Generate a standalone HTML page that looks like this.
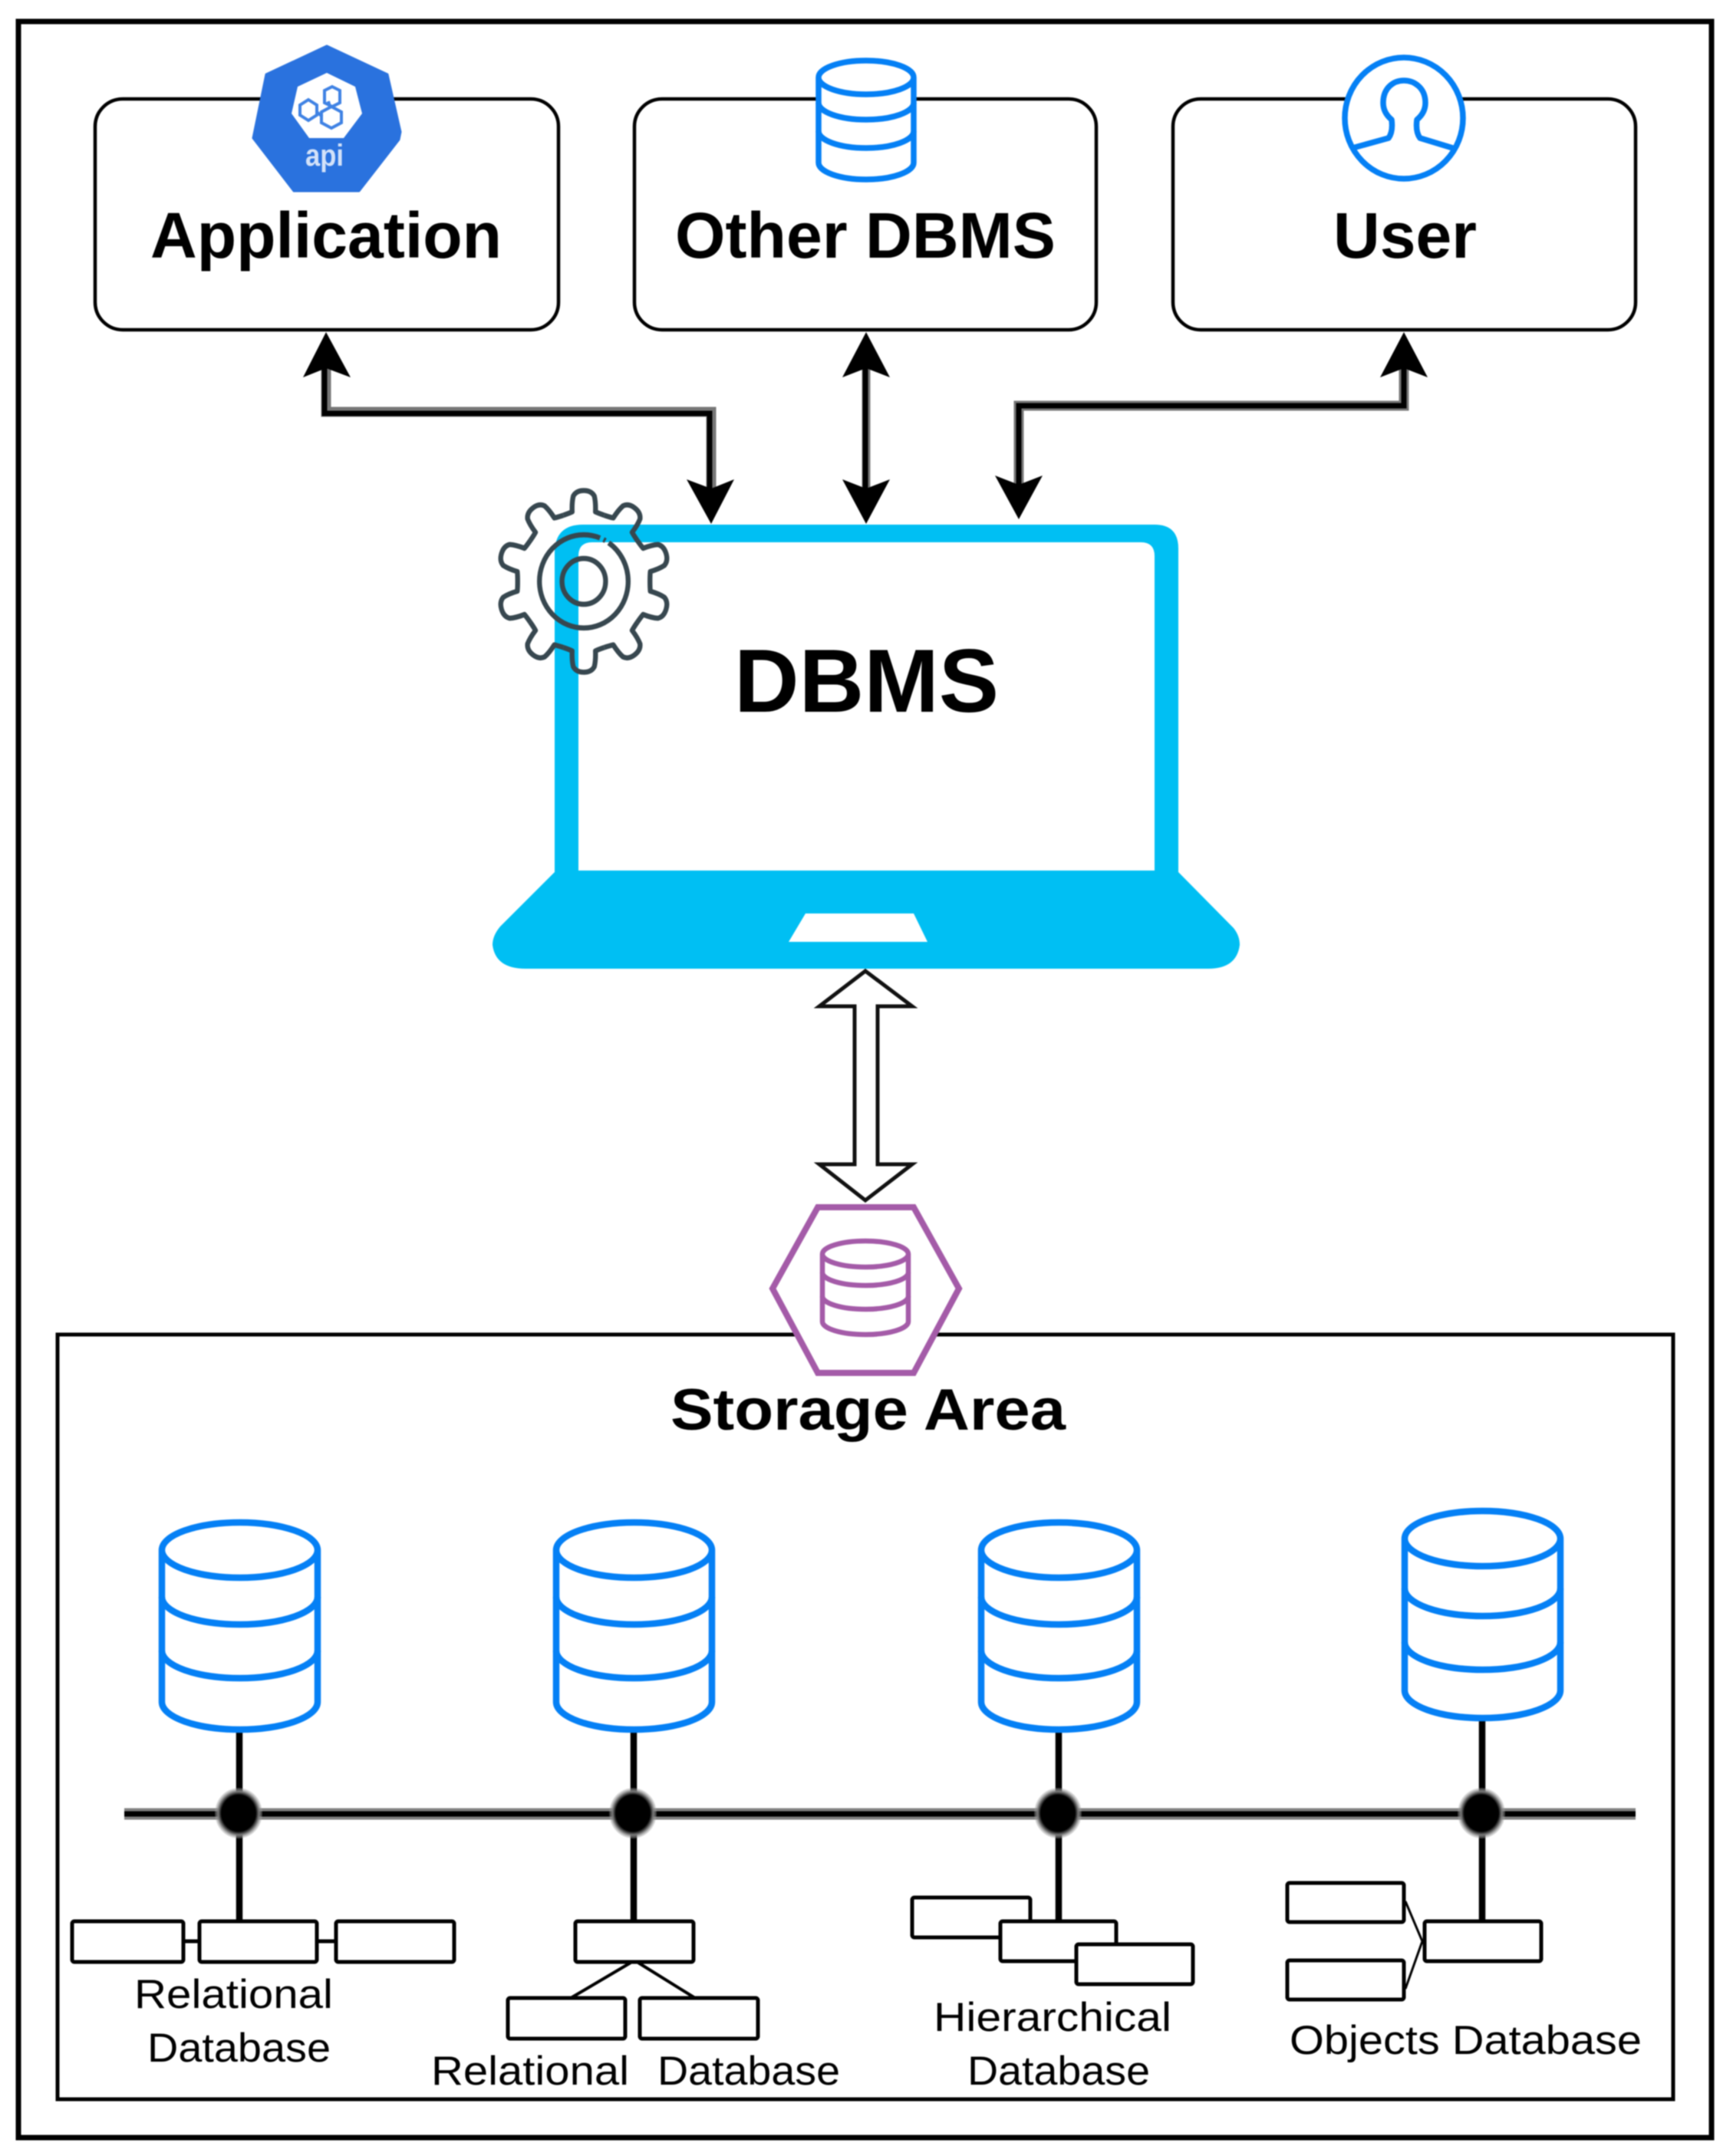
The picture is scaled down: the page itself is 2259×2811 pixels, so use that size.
<!DOCTYPE html>
<html><head><meta charset="utf-8"><title>DBMS</title>
<style>html,body{margin:0;padding:0;background:#fff}svg{display:block}
text{font-family:"Liberation Sans",sans-serif;fill:#000}</style></head>
<body>
<svg width="2259" height="2811" viewBox="0 0 2259 2811" xmlns="http://www.w3.org/2000/svg">
<defs>
<g id="cyl">
<path d="M-101.5 0V198A101.5 36 0 0 0 101.5 198V0A101.5 36 0 0 0 -101.5 0A101.5 36 0 0 0 101.5 0" fill="#fff" stroke="#0580f5" stroke-width="8.5"/>
</g>
<path id="tooth" d="M-27.2 -83.7Q-20 -86 -15.5 -88Q-16 -100 -14 -108Q-10 -115 0 -115Q10 -115 14 -108Q16 -100 15.5 -88Q20 -86 27.2 -83.7"/>
<radialGradient id="node"><stop offset="0" stop-color="#000"/><stop offset=".72" stop-color="#000"/><stop offset=".85" stop-color="#777"/><stop offset="1" stop-color="#aaa" stop-opacity=".25"/></radialGradient>
</defs>
<g style="filter:blur(.9px)">
<rect width="2259" height="2811" fill="#fff"/>
<rect x="24" y="28" width="2207" height="2759" fill="#fff" stroke="#000" stroke-width="7"/>

<!-- top boxes -->
<g fill="#fff" stroke="#000" stroke-width="4.5">
<rect x="124" y="129" width="604" height="301" rx="36"/>
<rect x="827" y="129" width="602" height="301" rx="36"/>
<rect x="1529" y="129" width="603" height="301" rx="36"/>
</g>
<g font-weight="bold" font-size="84">
<text x="196" y="336" textLength="458" lengthAdjust="spacingAndGlyphs">Application</text>
<text x="880" y="336" textLength="496" lengthAdjust="spacingAndGlyphs">Other DBMS</text>
<text x="1738" y="336" textLength="187" lengthAdjust="spacingAndGlyphs">User</text>
</g>

<!-- api icon -->
<polygon points="426,60 505,97 522,172 520,182 468,249 383,249 330,180 347,97" fill="#2a72de" stroke="#2a72de" stroke-width="3" stroke-linejoin="round"/>
<polygon points="426,95 463,113 472,148 448,180 403,180 380,148 388,113" fill="#fff"/>
<g fill="none" stroke="#3f82e4" stroke-width="4">
<polygon points="402,130 413,137 413,150 402,157 391,150 391,137"/>
<polygon points="433,113 443,118 443,134 433,139 423,134 423,118"/>
<polygon points="432,139 445,146 445,160 432,167 419,160 419,146"/>
<path d="M413 146L420 152M430 139L428 132"/>
</g>
<text x="398" y="216" font-size="40" font-weight="bold" textLength="50" lengthAdjust="spacingAndGlyphs" style="fill:#d3e2f9">api</text>

<!-- Other DBMS cylinder -->
<path d="M1067 101V212A62 22 0 0 0 1191 212V101A62 22 0 0 0 1067 101A62 22 0 0 0 1191 101" fill="#fff" stroke="#0580f5" stroke-width="7.5"/>
<path d="M1067 134A62 22 0 0 0 1191 134M1067 171A62 22 0 0 0 1191 171" fill="none" stroke="#0580f5" stroke-width="7.5"/>

<!-- User icon -->
<ellipse cx="1830" cy="154" rx="77" ry="79" fill="#fff" stroke="#0580f5" stroke-width="7.5"/>
<path d="M1763 193L1810 180Q1816 172 1814 156Q1803 147 1803 134C1803 114 1817 105 1830 105C1843 105 1858 114 1858 134Q1858 147 1847 156Q1845 172 1851 180L1897 194" fill="none" stroke="#0580f5" stroke-width="7.5" stroke-linejoin="round"/>

<!-- laptop -->
<path fill-rule="evenodd" fill="#00bff3" d="M760 684H1505Q1536 684 1536 715V1137L1608 1210Q1616 1220 1616 1232Q1612 1263 1575 1263H685Q646 1263 642 1232Q642 1220 652 1208L723 1137V721Q723 684 760 684ZM772 707Q754 707 754 725V1135H1505V725Q1505 707 1487 707Z"/>
<text x="957" y="928" font-size="117" font-weight="bold" textLength="345" lengthAdjust="spacingAndGlyphs">DBMS</text>
<path fill="#fff" d="M1050 1191L1028 1228H1209L1191 1191Z"/>

<!-- gear -->
<g transform="translate(761 758) scale(.98 1.03)" fill="none" stroke="#37474f" stroke-width="6.5" stroke-linejoin="round">
<use href="#tooth"/>
<use href="#tooth" transform="rotate(36)"/>
<use href="#tooth" transform="rotate(72)"/>
<use href="#tooth" transform="rotate(108)"/>
<use href="#tooth" transform="rotate(144)"/>
<use href="#tooth" transform="rotate(180)"/>
<use href="#tooth" transform="rotate(216)"/>
<use href="#tooth" transform="rotate(252)"/>
<use href="#tooth" transform="rotate(288)"/>
<use href="#tooth" transform="rotate(324)"/>
<circle r="59" stroke-dasharray="300 5 3 5"/>
<circle r="29"/>
</g>

<!-- black arrows -->
<g fill="none" stroke-linejoin="miter">
<polyline points="425,470 425,537 927,537 927,640" stroke="#777" stroke-width="13"/>
<polyline points="423,470 423,539 925,539 925,640" stroke="#000" stroke-width="7"/>
<line x1="1129" y1="470" x2="1129" y2="640" stroke="#777" stroke-width="11"/>
<line x1="1128" y1="470" x2="1128" y2="640" stroke="#000" stroke-width="7"/>
<polyline points="1830,470 1830,529 1328,529 1328,635" stroke="#777" stroke-width="13"/>
<polyline points="1830,470 1830,529 1328,529 1328,635" stroke="#000" stroke-width="7"/>
</g>
<g fill="#000">
<polygon points="425,433 457,492 425,480 395,492"/>
<polygon points="927,683 957,625 927,637 895,625"/>
<polygon points="1129,433 1160,492 1129,480 1098,492"/>
<polygon points="1129,683 1160,625 1129,637 1098,625"/>
<polygon points="1830,433 1861,492 1830,480 1799,492"/>
<polygon points="1328,677 1359,620 1328,632 1297,620"/>
</g>

<!-- white double arrow -->
<polygon points="1128,1266 1189,1312 1144,1312 1144,1518 1189,1518 1128,1565 1068,1518 1114,1518 1114,1312 1068,1312" fill="#fff" stroke="#111" stroke-width="5" stroke-linejoin="miter"/>

<!-- storage area -->
<rect x="75" y="1740" width="2106" height="997" fill="#fff" stroke="#000" stroke-width="5"/>
<polygon points="1066,1574 1191,1574 1250,1680 1191,1790 1066,1790 1007,1680" fill="#fff" stroke="#a45ba8" stroke-width="8"/>
<path d="M1072 1635V1723A56 17 0 0 0 1184 1723V1635A56 17 0 0 0 1072 1635A56 17 0 0 0 1184 1635" fill="#fff" stroke="#a45ba8" stroke-width="6.5"/>
<path d="M1072 1659A56 17 0 0 0 1184 1659M1072 1690A56 17 0 0 0 1184 1690" fill="none" stroke="#a45ba8" stroke-width="6.5"/>
<text x="874" y="1864" font-size="76" font-weight="bold" textLength="515" lengthAdjust="spacingAndGlyphs">Storage Area</text>

<!-- bus + verticals -->
<g stroke="#000" stroke-width="8.5">
<line x1="312" y1="2255" x2="312" y2="2506"/>
<line x1="826" y1="2255" x2="826" y2="2506"/>
<line x1="1380" y1="2255" x2="1380" y2="2506"/>
<line x1="1932" y1="2240" x2="1932" y2="2506"/>
</g>
<line x1="162" y1="2365" x2="2132" y2="2365" stroke="#808080" stroke-width="15"/>
<line x1="162" y1="2365" x2="2132" y2="2365" stroke="#000" stroke-width="7"/>
<g fill="url(#node)">
<ellipse cx="311" cy="2364" rx="31" ry="33"/><ellipse cx="825" cy="2364" rx="31" ry="33"/>
<ellipse cx="1379" cy="2364" rx="31" ry="33"/><ellipse cx="1931" cy="2364" rx="31" ry="33"/>
</g>

<!-- cylinders -->
<g>
<use href="#cyl" x="312.5" y="2021"/>
<use href="#cyl" x="826.5" y="2021"/>
<use href="#cyl" x="1380.5" y="2021"/>
<use href="#cyl" x="1932.5" y="2006"/>
</g>
<g fill="none" stroke="#0580f5" stroke-width="8.5">
<path d="M211 2082A101.5 36 0 0 0 414 2082M211 2152A101.5 36 0 0 0 414 2152"/>
<path d="M725 2082A101.5 36 0 0 0 928 2082M725 2152A101.5 36 0 0 0 928 2152"/>
<path d="M1279 2082A101.5 36 0 0 0 1482 2082M1279 2152A101.5 36 0 0 0 1482 2152"/>
<path d="M1831 2071A101.5 36 0 0 0 2034 2071M1831 2141A101.5 36 0 0 0 2034 2141"/>
</g>

<!-- small connectors -->
<g stroke="#000" fill="none" stroke-width="5">
<line x1="239" y1="2531" x2="259" y2="2531"/>
<line x1="413" y1="2531" x2="438" y2="2531"/>
<path d="M822 2559L744 2605M832 2559L906 2605" stroke-width="4"/>
<path d="M1832 2479L1854 2531L1832 2593" stroke-width="3"/>
</g>
<!-- small rects -->
<g fill="#fff" stroke="#000" stroke-width="5">
<rect x="94" y="2505" width="145" height="53" rx="3"/>
<rect x="260" y="2505" width="153" height="53" rx="3"/>
<rect x="438" y="2505" width="154" height="53" rx="3"/>
<rect x="750" y="2505" width="154" height="53" rx="3"/>
<rect x="662" y="2605" width="153" height="53" rx="3"/>
<rect x="834" y="2605" width="154" height="53" rx="3"/>
<rect x="1189" y="2474" width="154" height="52" rx="3"/>
<rect x="1304" y="2505" width="151" height="52" rx="3"/>
<rect x="1403" y="2535" width="152" height="52" rx="3"/>
<rect x="1678" y="2455" width="152" height="51" rx="3"/>
<rect x="1678" y="2556" width="152" height="51" rx="3"/>
<rect x="1857" y="2505" width="152" height="52" rx="3"/>
</g>

<!-- labels -->
<g font-size="53">
<text x="175" y="2618" textLength="259" lengthAdjust="spacingAndGlyphs">Relational</text>
<text x="192" y="2688" textLength="239" lengthAdjust="spacingAndGlyphs">Database</text>
<text x="562" y="2718" textLength="258" lengthAdjust="spacingAndGlyphs">Relational</text>
<text x="857" y="2718" textLength="238" lengthAdjust="spacingAndGlyphs">Database</text>
<text x="1217" y="2648" textLength="310" lengthAdjust="spacingAndGlyphs">Hierarchical</text>
<text x="1261" y="2718" textLength="238" lengthAdjust="spacingAndGlyphs">Database</text>
<text x="1681" y="2678" textLength="459" lengthAdjust="spacingAndGlyphs">Objects Database</text>
</g>
</g>
</svg>
</body></html>
